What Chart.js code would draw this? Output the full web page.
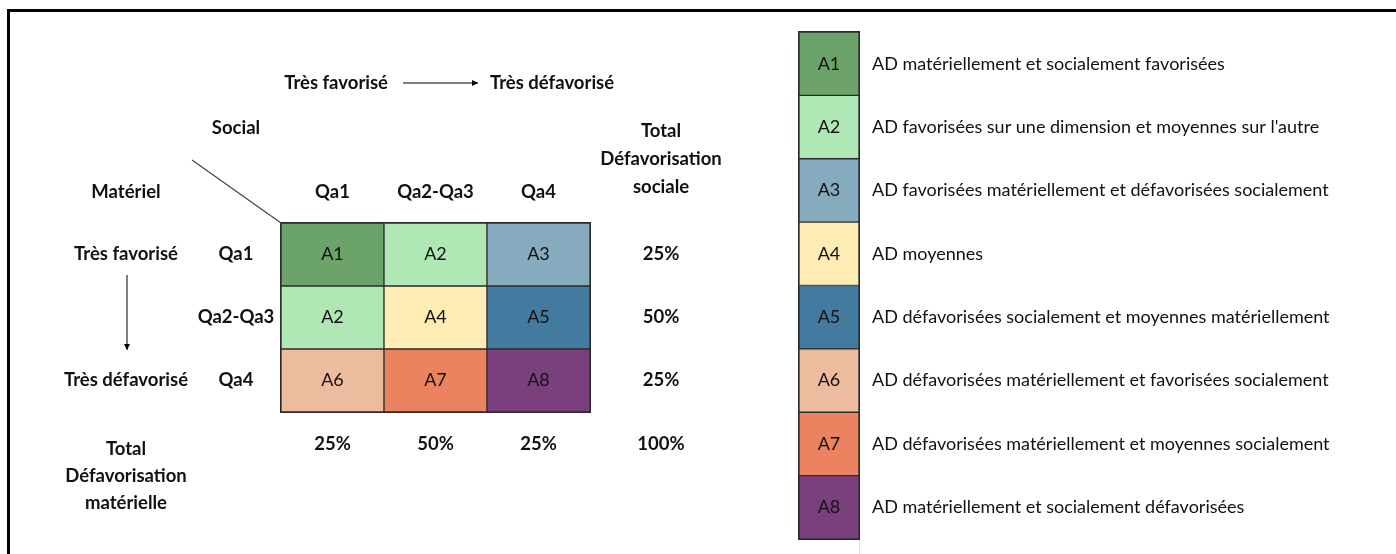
<!DOCTYPE html>
<html>
<head>
<meta charset="utf-8">
<script src="https://cdn.jsdelivr.net/npm/chart.js@4.4.0/dist/chart.umd.min.js"></script>
<style>
  body { margin: 0; background: #fff; }
  #wrap { position: relative; width: 1396px; height: 554px; overflow: hidden; }
  #frame { position: absolute; left: 7px; top: 9px; right: -10px; bottom: -10px; border-top: 3px solid #000; border-left: 3px solid #000; }
  canvas { position: absolute; left: 0; top: 0; }
</style>
</head>
<body>
<div id="wrap">
  <div id="frame"></div>
  <canvas id="matrix" width="1396" height="554"></canvas>
  <canvas id="legend" width="1396" height="554"></canvas>
</div>
<script>
// colonnes = défavorisation sociale, lignes = défavorisation matérielle
const socialLevels = ['Qa1', 'Qa2-Qa3', 'Qa4'];
const materielLevels = ['Qa1', 'Qa2-Qa3', 'Qa4'];
const cellCodes = [
  ['A1', 'A2', 'A3'],
  ['A2', 'A4', 'A5'],
  ['A6', 'A7', 'A8']
];
const rowTotals = ['25%', '50%', '25%'];
const colTotals = ['25%', '50%', '25%'];
const grandTotal = '100%';

const codes = ['A1', 'A2', 'A3', 'A4', 'A5', 'A6', 'A7', 'A8'];
const codeColors = ['#6ba36a', '#b0e8b5', '#86abbe', '#ffedb5', '#437ba0', '#edbc9f', '#eb8360', '#7a407e'];
const codeLabels = [
  'AD matériellement et socialement favorisées',
  "AD favorisées sur une dimension et moyennes sur l'autre",
  'AD favorisées matériellement et défavorisées socialement',
  'AD moyennes',
  'AD défavorisées socialement et moyennes matériellement',
  'AD défavorisées matériellement et favorisées socialement',
  'AD défavorisées matériellement et moyennes socialement',
  'AD matériellement et socialement défavorisées'
];

const FONT = 'Lato, "Open Sans", sans-serif';
const BOLD = 'bold 18.5px ' + FONT;
const NORMAL = '18px ' + FONT;

function colorOf(code) {
  return codeColors[codes.indexOf(code)];
}

function arrow(ctx, x1, y1, x2, y2) {
  ctx.save();
  ctx.strokeStyle = '#000';
  ctx.fillStyle = '#000';
  ctx.lineWidth = 1;
  ctx.beginPath();
  ctx.moveTo(x1, y1);
  ctx.lineTo(x2, y2);
  ctx.stroke();
  const ang = Math.atan2(y2 - y1, x2 - x1);
  ctx.beginPath();
  ctx.moveTo(x2, y2);
  ctx.lineTo(x2 - 6 * Math.cos(ang) + 3 * Math.sin(ang), y2 - 6 * Math.sin(ang) - 3 * Math.cos(ang));
  ctx.lineTo(x2 - 6 * Math.cos(ang) - 3 * Math.sin(ang), y2 - 6 * Math.sin(ang) + 3 * Math.cos(ang));
  ctx.closePath();
  ctx.fill();
  ctx.restore();
}

const matrixText = {
  id: 'matrixText',
  afterDatasetsDraw(chart) {
    const ctx = chart.ctx;
    const xs = chart.scales.x, ys = chart.scales.y, a = chart.chartArea;
    ctx.save();
    // cadre extérieur
    ctx.strokeStyle = '#2b2b2b';
    ctx.lineWidth = 1;
    ctx.strokeRect(a.left - 0.5, a.top - 0.5, a.right - a.left + 1, a.bottom - a.top + 1);

    ctx.textAlign = 'center';
    ctx.textBaseline = 'middle';
    ctx.fillStyle = '#111';
    ctx.font = NORMAL;
    cellCodes.forEach((row, r) => {
      row.forEach((code, c) => {
        ctx.fillText(code, xs.getPixelForValue(c), ys.getPixelForValue(r + 0.5));
      });
    });

    ctx.font = BOLD;
    const leftCol = a.left - 155, qaCol = a.left - 45, totCol = a.right + 71;
    socialLevels.forEach((lab, c) => ctx.fillText(lab, xs.getPixelForValue(c), a.top - 31));
    materielLevels.forEach((lab, r) => ctx.fillText(lab, qaCol, ys.getPixelForValue(r + 0.5)));
    rowTotals.forEach((lab, r) => ctx.fillText(lab, totCol, ys.getPixelForValue(r + 0.5)));
    colTotals.forEach((lab, c) => ctx.fillText(lab, xs.getPixelForValue(c), a.bottom + 32));
    ctx.fillText(grandTotal, totCol, a.bottom + 32);

    ctx.fillText('Social', qaCol, a.top - 95);
    ctx.fillText('Matériel', leftCol, a.top - 31);
    ctx.fillText('Très favorisé', leftCol, ys.getPixelForValue(0.5));
    ctx.fillText('Très défavorisé', leftCol, ys.getPixelForValue(2.5));
    ['Total', 'Défavorisation', 'sociale'].forEach((t, i) => ctx.fillText(t, totCol, a.top - 92 + i * 28));
    ['Total', 'Défavorisation', 'matérielle'].forEach((t, i) => ctx.fillText(t, leftCol, a.bottom + 37 + i * 27));

    ctx.textAlign = 'right';
    ctx.fillText('Très favorisé', a.left + 107, a.top - 140);
    ctx.textAlign = 'left';
    ctx.fillText('Très défavorisé', a.left + 209, a.top - 140);

    arrow(ctx, a.left + 122, a.top - 140, a.left + 197, a.top - 140);
    arrow(ctx, leftCol + 1, a.top + 52, leftCol + 1, a.top + 127);

    // diagonale de l'en-tête
    ctx.strokeStyle = '#444';
    ctx.lineWidth = 1.2;
    ctx.beginPath();
    ctx.moveTo(a.left - 89, a.top - 63);
    ctx.lineTo(a.left, a.top);
    ctx.stroke();
    ctx.restore();
  }
};

new Chart(document.getElementById('matrix'), {
  type: 'bar',
  data: {
    labels: socialLevels,
    datasets: materielLevels.map((m, r) => ({
      label: m,
      data: socialLevels.map(() => [r, r + 1]),
      backgroundColor: cellCodes[r].map(colorOf),
      borderColor: '#2b2b2b',
      borderWidth: 1,
      borderSkipped: false,
      grouped: false,
      barPercentage: 1,
      categoryPercentage: 1
    }))
  },
  options: {
    responsive: false,
    animation: false,
    layout: { padding: { left: 281, top: 223, right: 806, bottom: 142 } },
    plugins: { legend: { display: false }, tooltip: { enabled: false } },
    scales: {
      x: { type: 'category', display: false, offset: true },
      y: { type: 'linear', min: 0, max: 3, reverse: true, display: false }
    }
  },
  plugins: [matrixText]
});

const legendText = {
  id: 'legendText',
  afterDatasetsDraw(chart) {
    const ctx = chart.ctx;
    const xs = chart.scales.x, ys = chart.scales.y, a = chart.chartArea;
    ctx.save();
    ctx.textBaseline = 'middle';
    ctx.fillStyle = '#111';
    ctx.font = NORMAL;
    codes.forEach((code, i) => {
      const y = ys.getPixelForValue(i);
      ctx.textAlign = 'center';
      ctx.fillText(code, xs.getPixelForValue(0.5), y);
      ctx.textAlign = 'left';
      ctx.fillText(codeLabels[i], a.right + 13, y);
    });
    ctx.strokeStyle = '#2b2b2b';
    ctx.lineWidth = 1;
    ctx.strokeRect(a.left - 0.5, a.top - 0.5, a.right - a.left + 1, a.bottom - a.top + 1);
    ctx.strokeStyle = '#dddddd';
    ctx.beginPath();
    ctx.moveTo(a.right + 0.5, a.bottom + 1);
    ctx.lineTo(a.right + 0.5, chart.height);
    ctx.stroke();
    ctx.restore();
  }
};

new Chart(document.getElementById('legend'), {
  type: 'bar',
  data: {
    labels: codes,
    datasets: [{
      data: codes.map(() => [0, 1]),
      backgroundColor: codeColors,
      borderColor: '#2b2b2b',
      borderWidth: 1,
      borderSkipped: false,
      barPercentage: 1,
      categoryPercentage: 1
    }]
  },
  options: {
    indexAxis: 'y',
    responsive: false,
    animation: false,
    layout: { padding: { left: 799, top: 32, right: 537, bottom: 15 } },
    plugins: { legend: { display: false }, tooltip: { enabled: false } },
    scales: {
      x: { type: 'linear', min: 0, max: 1, display: false },
      y: { type: 'category', display: false, offset: true }
    }
  },
  plugins: [legendText]
});
</script>
</body>
</html>
